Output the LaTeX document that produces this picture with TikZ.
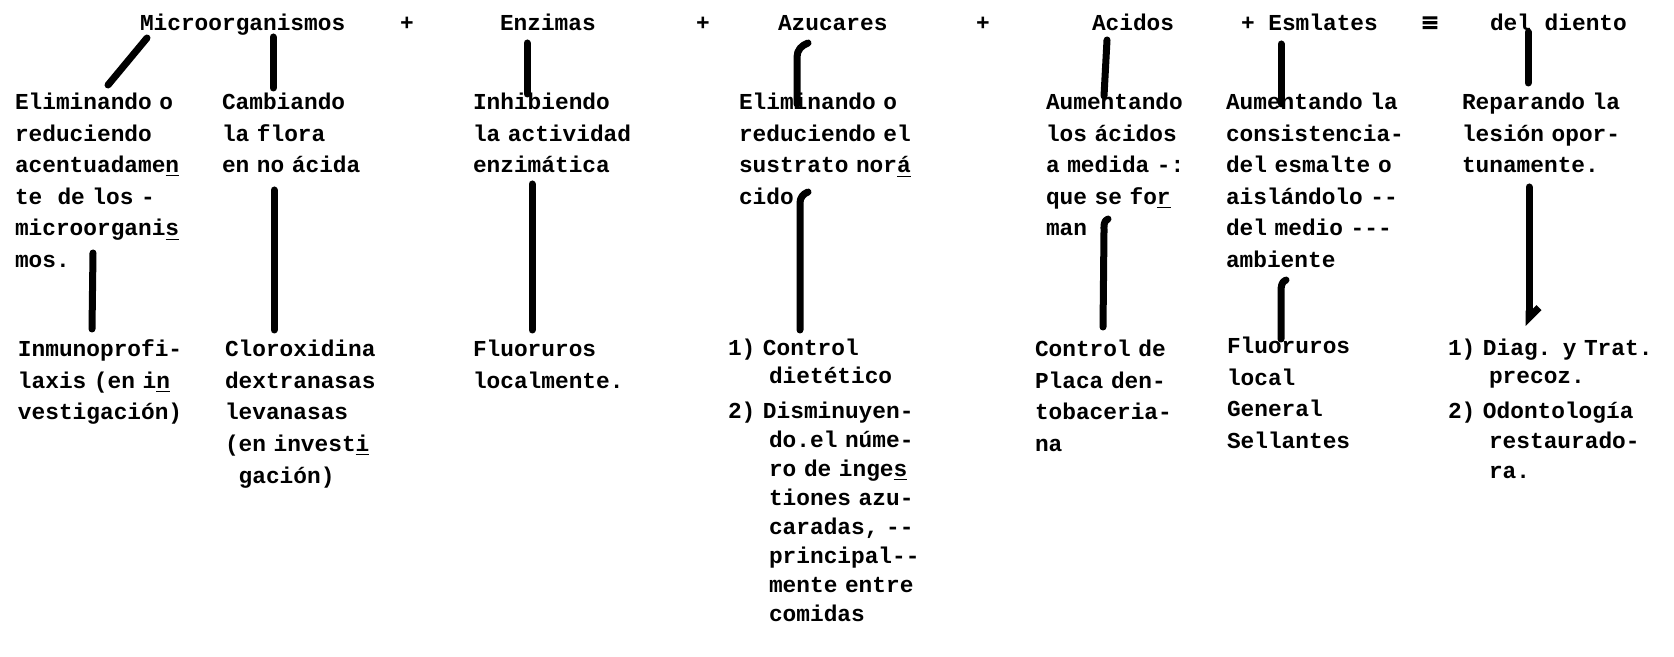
\documentclass[tikz,border=0pt]{standalone}
\usepackage{fontspec}
\setmonofont{Liberation Mono}
\newfontfamily\heavymono[FakeBold=4]{Liberation Mono}
\usepackage{tikz}
\usetikzlibrary{arrows.meta}
\newcommand{\typeface}[1]{\ttfamily\bfseries\fontsize{11.4}{#1}\selectfont\spaceskip=0.6em\relax\xspaceskip=0.6em\relax}
\newcommand{\itemind}{\hspace*{1.8em}}
\newcommand{\onesp}{\hspace*{0.6em}}

\begin{document}
\begin{tikzpicture}[
    x=0.5pt, y=-0.5pt,
    nosep/.style={inner sep=0, outer sep=0},
    head/.style={nosep, anchor=base west, font=\typeface{15}},
    plus/.style={head, anchor=base},
    typed/.style={nosep, anchor=base west, text width=16em, align=left, font=\typeface{#1}},
    typed/.default=15.75,
    stroke/.style={line width=3.5pt, line cap=round, line join=round}]
\useasboundingbox (0,0) rectangle (1674,657);

\node[head] (micro) at (140,31) {Microorganismos};
\node[plus] (plusA) at (407,31) {+};
\node[head] (enz) at (500,31) {Enzimas};
\node[plus] (plusB) at (703,31) {+};
\node[head] (azu) at (778,31) {Azucares};
\node[plus] (plusC) at (983,31) {+};
\node[head] (acid) at (1092,31) {Acidos};
\node[head] (esm) at (1241,31) {+ Esmlates};
\node[plus, font=\heavymono\fontsize{14}{15}\selectfont] (equiv) at (1430,32) {≡};
\node[head] (diente) at (1490,31) {del diento};

\node[typed] (elim) at (15,110) {Eliminando o\\reduciendo\\acentuadame\underline{n}\\te~~de los -\\microorgani\underline{s}\\mos.};
\node[typed] (camb) at (222,110) {Cambiando\\la flora\\en no ácida};
\node[typed] (inhib) at (473,110) {Inhibiendo\\la actividad\\enzimática};
\node[typed] (elimazu) at (739,110) {Eliminando o\\reduciendo el\\sustrato nor\underline{á}\\cido};
\node[typed] (aument) at (1046,110) {Aumentando\\los ácidos\\a medida -:\\que se fo\underline{r}\\man};
\node[typed] (aumentla) at (1226,110) {Aumentando la\\consistencia-\\del esmalte o\\aislándolo --\\del medio ---\\ambiente};
\node[typed] (repar) at (1462,110) {Reparando la\\lesión opor-\\tunamente.};

\node[typed] (inmuno) at (18,357) {Inmunoprofi-\\laxis (en i\underline{n}\\vestigación)};
\node[typed] (cloro) at (225,357) {Cloroxidina\\dextranasas\\levanasas\\(en invest\underline{i}\\\onesp gación)};
\node[typed] (fluor) at (473,357) {Fluoruros\\localmente.};
\node[typed=14] (dieta) at (728,356) {1) Control\\\itemind dietético};
\node[typed=14.5] (ingesta) at (728,418) {2) Disminuyen-\\\itemind do.el núme-\\\itemind ro de inge\underline{s}\\\itemind tiones azu-\\\itemind caradas, --\\\itemind principal--\\\itemind mente entre\\\itemind comidas};
\node[typed] (placa) at (1035,357) {Control de\\Placa den-\\tobaceria-\\na};
\node[typed] (fluorB) at (1227,354) {Fluoruros\\local\\General\\Sellantes};
\node[typed=14] (diag) at (1448,356) {1) Diag. y Trat.\\\itemind precoz.};
\node[typed=15] (odont) at (1448,418) {2) Odontología\\\itemind restaurado-\\\itemind ra.};

% strokes from the top line
\path[draw, stroke] ([shift={(7,7)}]micro.base west) -- ([shift={(93,-25)}]elim.base west);
\path[draw, stroke] ([shift={(133,6)}]micro.base west) -- ([shift={(51,-22)}]camb.base west);
\path[draw, stroke] ([shift={(27,12)}]enz.base west) -- ([shift={(54,-16)}]inhib.base west);
\path[draw, stroke] ([shift={(30,12)}]azu.base west) to[out=200,in=90] ++(-11,14) -- ([shift={(58,-6)}]elimazu.base west);
\path[draw, stroke] ([shift={(15,9)}]acid.base west) -- ([shift={(58,-14)}]aument.base west);
\path[draw, stroke] ([shift={(40,13)}]esm.base west) -- ([shift={(55,-6)}]aumentla.base west);
\path[draw, stroke] ([shift={(38,1)}]diente.base west) -- ([shift={(66,-27)}]repar.base west);

% strokes down to the measures
\path[draw, stroke] ([shift={(78,143)}]elim.base west) -- ([shift={(74,-28)}]inmuno.base west);
\path[draw, stroke] ([shift={(52,80)}]camb.base west) -- ([shift={(49,-27)}]cloro.base west);
\path[draw, stroke] ([shift={(59,74)}]inhib.base west) -- ([shift={(59,-27)}]fluor.base west);
\path[draw, stroke] ([shift={(69,82)}]elimazu.base west) to[out=200,in=90] ++(-8,11) -- ([shift={(72,-26)}]dieta.base west);
\path[draw, stroke] ([shift={(62,109)}]aument.base west) to[out=200,in=90] ++(-4,12) -- ([shift={(68,-30)}]placa.base west);
\path[draw, stroke] ([shift={(60,170)}]aumentla.base west) to[out=200,in=90] ++(-5,12) -- ([shift={(54,-15)}]fluorB.base west);
\path[draw, stroke, -{Straight Barb[left, length=5pt, width=10pt]}] ([shift={(67,77)}]repar.base west) -- ([shift={(81,-30)}]diag.base west);

\end{tikzpicture}
\end{document}
